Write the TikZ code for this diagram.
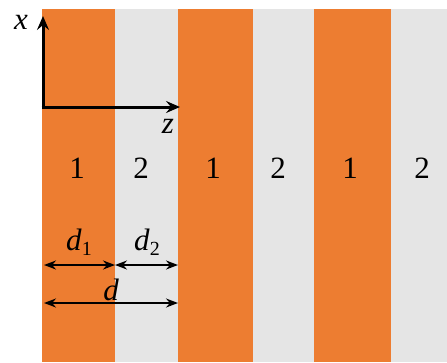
\documentclass[tikz,border=0pt]{standalone}
\usepackage{fontspec}
\setmainfont{Liberation Serif}
\usetikzlibrary{arrows.meta}
\definecolor{layerone}{HTML}{ED7D31}
\definecolor{layertwo}{HTML}{E5E5E5}
\begin{document}
\begin{tikzpicture}[x=1pt,y=-1pt,
  lab/.style={font=\fontsize{31}{34}\selectfont, inner sep=0pt},
  axis/.style={line width=3pt, -{Stealth[length=14pt,width=12pt,inset=5pt]}},
  dim/.style={line width=2.6pt, {Stealth[length=12pt,width=9pt,inset=4pt]}-{Stealth[length=12pt,width=9pt,inset=4pt]}}]
\useasboundingbox (0,0) rectangle (447,362);
\fill[white] (0,0) rectangle (447,362);
% stripes
\fill[layerone] (42,9) rectangle (115,362);
\fill[layertwo] (115,9) rectangle (178,362);
\fill[layerone] (178,9) rectangle (253,362);
\fill[layertwo] (253,9) rectangle (314,362);
\fill[layerone] (314,9) rectangle (391,362);
\fill[layertwo] (391,9) rectangle (447,362);
% axes
\coordinate (o) at (43,107);
\coordinate (xt) at (43,16);
\coordinate (zt) at (180,107);
\draw[axis] ([yshift=1.5pt]o) -- (xt);
\draw[axis] ([xshift=-1.5pt]o) -- (zt);
\node[lab] (xl) at (21,22) {\itshape x};
\node[lab] (zl) at (168,126) {\itshape z};
% layer labels
\node[lab] (n1) at (77,168) {1};
\node[lab] (n2) at (141,168) {2};
\node[lab] (n3) at (213,168) {1};
\node[lab] (n4) at (278,168) {2};
\node[lab] (n5) at (350,168) {1};
\node[lab] (n6) at (422,168) {2};
% dimensions
\coordinate (a1) at (44,265);
\coordinate (a2) at (115,265);
\coordinate (a3) at (178,265);
\coordinate (b1) at (44,303);
\coordinate (b2) at (178,303);
\draw[dim] (a1) -- (a2);
\draw[dim] (a2) -- (a3);
\draw[dim] (b1) -- (b2);
\node[lab] (d1) at (79,242) {\itshape d\/\fontsize{20}{22}\selectfont\upshape\raisebox{-5pt}{1}};
\node[lab] (d2) at (147,242) {\itshape d\/\fontsize{20}{22}\selectfont\upshape\raisebox{-5pt}{2}};
\node[lab] (d) at (111,290) {\itshape d};
\end{tikzpicture}
\end{document}
